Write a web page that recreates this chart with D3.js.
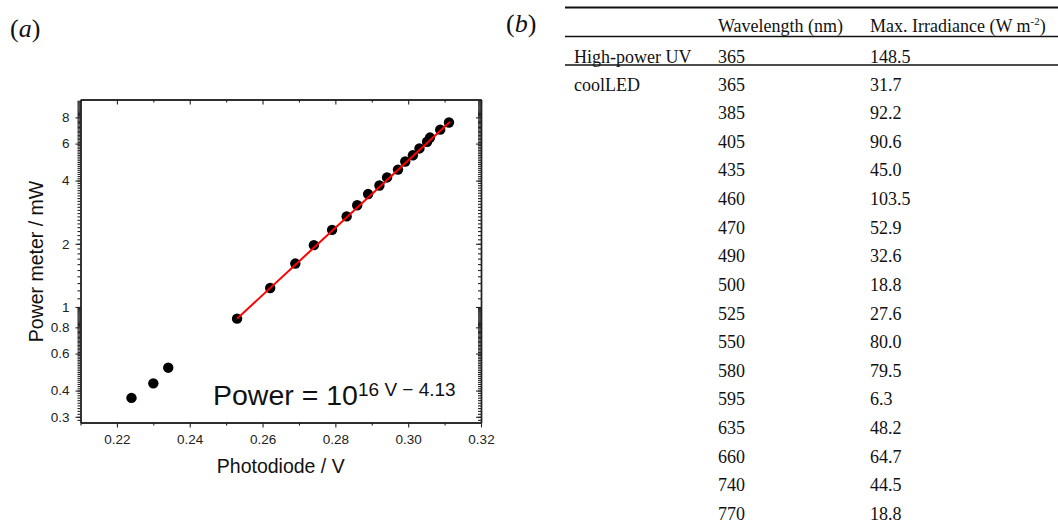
<!DOCTYPE html>
<html><head><meta charset="utf-8">
<script src="https://cdn.jsdelivr.net/npm/d3@7"></script>
<style>body{margin:0;background:#fff}</style>
</head><body><svg id="c" width="1058" height="524"></svg>
<script>
// ---- panel (a) data ----
const photodiodeV = [0.2240,0.2300,0.2341,0.2530,0.2621,0.2690,0.2741,0.2791,0.2831,0.2860,0.2890,0.2921,0.2942,0.2972,0.2992,0.3013,0.3031,0.3052,0.3060,0.3088,0.3112];
const powerMW     = [0.369,0.433,0.514,0.880,1.232,1.61,1.97,2.33,2.70,3.05,3.45,3.79,4.14,4.51,4.93,5.28,5.69,6.12,6.41,6.99,7.56];
const fitV     = [0.2530, 0.3115];
const fitPower = [0.880, 7.62];
const xTicks = [0.22,0.24,0.26,0.28,0.30,0.32];
const xMinorTicks = [0.21,0.23,0.25,0.27,0.29,0.31];
const yTicks = [0.3,0.4,0.6,0.8,1,2,4,6,8];
const yTickLabels = ["0.3","0.4","0.6","0.8","1","2","4","6","8"];
// ---- panel (b) data ----
const headers = ["", "Wavelength (nm)", "Max. Irradiance (W m"];
const sourceNames = ["High-power UV","coolLED","","","","","","","","","","","","","","",""];
const wavelengths = ["365","365","385","405","435","460","470","490","500","525","550","580","595","635","660","740","770"];
const irradiance  = ["148.5","31.7","92.2","90.6","45.0","103.5","52.9","32.6","18.8","27.6","80.0","79.5","6.3","48.2","64.7","44.5","18.8"];

const svg = d3.select("#c");
const L=80.5, R=481, T=99.5, B=422.5;
const x = d3.scaleLinear().domain([0.21,0.32]).range([L,R]);
const y = d3.scaleLog().domain([0.2818,9.73]).range([B,T]);

// minor y ticks
const yMinor = [];
d3.range(0.29,1.0001,0.01).forEach(v=>yMinor.push(+v.toFixed(2)));
d3.range(1.1,9.7,0.1).forEach(v=>yMinor.push(+v.toFixed(1)));

const sans = "Liberation Sans, Arial, sans-serif";
const serif = "Liberation Serif, Times New Roman, serif";
const axisColor = "#222";

function styleAxis(g){
  g.selectAll(".domain").attr("stroke",axisColor).attr("stroke-width",1.4);
  g.selectAll(".tick line").attr("stroke",axisColor).attr("stroke-width",1.1);
  g.selectAll("text").attr("font-family",sans).attr("font-size",13.5).attr("fill","#222");
}
// minor ticks (drawn first)
svg.append("g").attr("transform",`translate(0,${B})`)
  .call(d3.axisBottom(x).tickValues(xMinorTicks).tickSize(3).tickFormat("").tickSizeOuter(0)).call(styleAxis);
svg.append("g").attr("transform",`translate(0,${T})`)
  .call(d3.axisTop(x).tickValues(xMinorTicks).tickSize(-3).tickFormat("").tickSizeOuter(0)).call(styleAxis);
svg.append("g").attr("transform",`translate(${L},0)`)
  .call(d3.axisLeft(y).tickValues(yMinor).tickSize(3).tickFormat("").tickSizeOuter(0)).call(styleAxis);
svg.append("g").attr("transform",`translate(${R},0)`)
  .call(d3.axisRight(y).tickValues(yMinor).tickSize(-3).tickFormat("").tickSizeOuter(0)).call(styleAxis);
// major ticks
svg.append("g").attr("transform",`translate(0,${B})`)
  .call(d3.axisBottom(x).tickValues(xTicks).tickSize(5).tickPadding(6.5).tickFormat(d3.format(".2f")).tickSizeOuter(0)).call(styleAxis);
svg.append("g").attr("transform",`translate(0,${T})`)
  .call(d3.axisTop(x).tickValues(xTicks).tickSize(-5).tickFormat("").tickSizeOuter(0)).call(styleAxis);
svg.append("g").attr("transform",`translate(${L},0)`)
  .call(d3.axisLeft(y).tickValues(yTicks).tickSize(5).tickPadding(6).tickFormat((d,i)=>yTickLabels[i]).tickSizeOuter(0)).call(styleAxis);
svg.append("g").attr("transform",`translate(${R},0)`)
  .call(d3.axisRight(y).tickValues(yTicks).tickSize(-5).tickFormat("").tickSizeOuter(0)).call(styleAxis);

// points
svg.append("g").selectAll("circle").data(photodiodeV).join("circle")
  .attr("cx",d=>x(d)).attr("cy",(d,i)=>y(powerMW[i])).attr("r",5.2).attr("fill","#000");
// fit line
svg.append("path").datum(fitV.map((v,i)=>[v,fitPower[i]]))
  .attr("d",d3.line().x(d=>x(d[0])).y(d=>y(d[1])))
  .attr("stroke","#f00").attr("stroke-width",2).attr("fill","none");

// axis titles
svg.append("text").attr("x",(L+R)/2).attr("y",473).attr("text-anchor","middle")
  .attr("font-family",sans).attr("font-size",19.5).attr("fill","#111").text("Photodiode / V");
svg.append("text").attr("transform","translate(43,261.5) rotate(-90)").attr("text-anchor","middle")
  .attr("font-family",sans).attr("font-size",19.5).attr("fill","#111").text("Power meter / mW");

// equation
const eq = svg.append("text").attr("x",213).attr("y",405).attr("font-family",sans).attr("fill","#111");
eq.append("tspan").attr("font-size",28.5).text("Power = 10");
eq.append("tspan").attr("font-size",19).attr("dy",-9).text("16 V \u2212 4.13");

// panel labels
const la = svg.append("text").attr("x",10).attr("y",37).attr("font-family",serif).attr("font-size",26).attr("fill","#111");
la.append("tspan").text("(");
la.append("tspan").attr("font-style","italic").text("a");
la.append("tspan").text(")");
const lb = svg.append("text").attr("x",506).attr("y",31.5).attr("font-family",serif).attr("font-size",26).attr("fill","#111");
lb.append("tspan").text("(");
lb.append("tspan").attr("font-style","italic").text("b");
lb.append("tspan").text(")");

// table
const colX = [574, 718, 870];
const tbl = svg.append("g").attr("font-family",serif).attr("font-size",18).attr("fill","#111");
[[7.5,2],[36.5,1.5],[65,1.5]].forEach(([yy,w])=>{
  tbl.append("line").attr("x1",565).attr("x2",1058).attr("y1",yy).attr("y2",yy)
    .attr("stroke","#111").attr("stroke-width",w);
});
headers.forEach((h,i)=>{
  const t = tbl.append("text").attr("x",colX[i]).attr("y",32).text(h);
  if(i===2){
    t.append("tspan").attr("font-size",11).attr("dy",-7).text("-2");
    t.append("tspan").attr("dy",7).text(")");
  }
});
const rowY = d3.scaleLinear().domain([1,16]).range([90.5,520]);
sourceNames.forEach((s,i)=>{
  const yy = i===0 ? 62.5 : rowY(i);
  if(s) tbl.append("text").attr("x",colX[0]).attr("y",yy).text(s);
  tbl.append("text").attr("x",colX[1]).attr("y",yy).text(wavelengths[i]);
  tbl.append("text").attr("x",colX[2]).attr("y",yy).text(irradiance[i]);
});
</script></body></html>
